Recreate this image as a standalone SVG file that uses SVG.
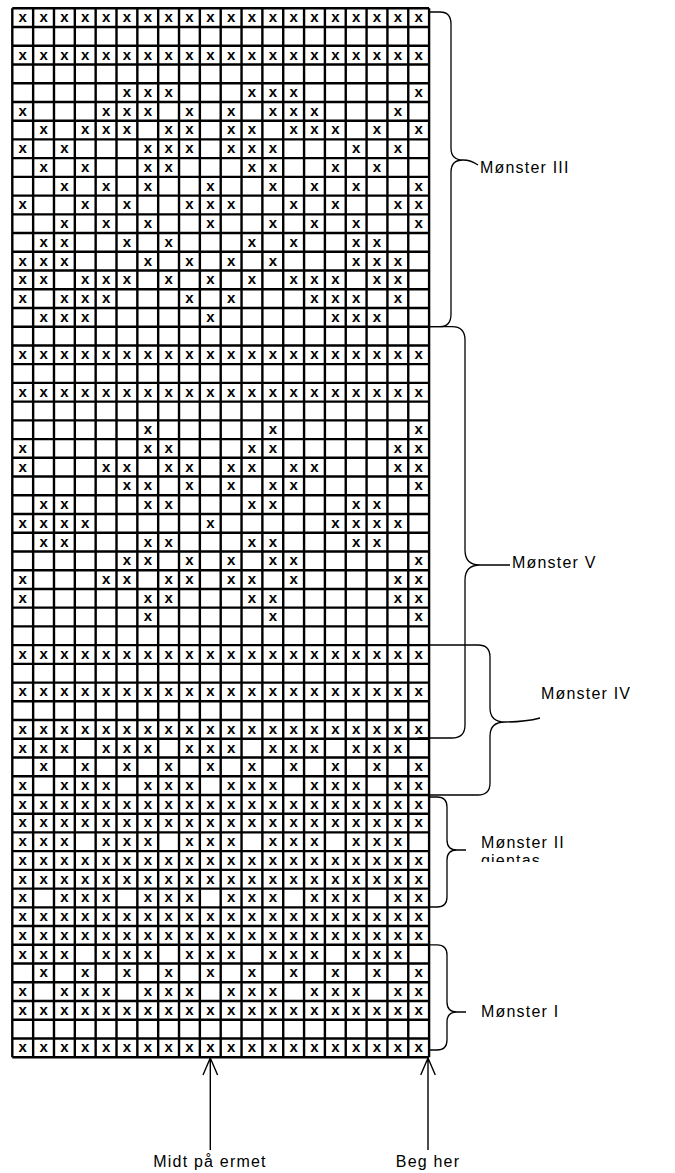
<svg xmlns="http://www.w3.org/2000/svg" width="675" height="1173" viewBox="0 0 675 1173">
<style>
.grid{fill:none;stroke:#000;stroke-width:2.4}
.x{font-family:"Liberation Sans",Arial,sans-serif;font-size:15px;font-weight:bold;text-anchor:middle;fill:#000}
.brace{fill:none;stroke:#000;stroke-width:1.3}
.lbl{font-family:"Liberation Sans",Arial,sans-serif;font-size:16px;letter-spacing:1.2px;fill:#000}
.arr{fill:none;stroke:#000;stroke-width:1.4}
</style>
<defs>
<clipPath id="clipG"><rect x="470" y="850" width="120" height="12"/></clipPath>
</defs>
<rect width="675" height="1173" fill="#fff"/>
<g id="chart">
<path class="grid" d="M12.3 8.3H429.1M12.3 27.03H429.1M12.3 45.76H429.1M12.3 64.49H429.1M12.3 83.22H429.1M12.3 101.95H429.1M12.3 120.68H429.1M12.3 139.41H429.1M12.3 158.14H429.1M12.3 176.87H429.1M12.3 195.6H429.1M12.3 214.33H429.1M12.3 233.06H429.1M12.3 251.79H429.1M12.3 270.52H429.1M12.3 289.25H429.1M12.3 307.98H429.1M12.3 326.71H429.1M12.3 345.44H429.1M12.3 364.17H429.1M12.3 382.9H429.1M12.3 401.63H429.1M12.3 420.36H429.1M12.3 439.09H429.1M12.3 457.82H429.1M12.3 476.55H429.1M12.3 495.28H429.1M12.3 514.01H429.1M12.3 532.74H429.1M12.3 551.47H429.1M12.3 570.2H429.1M12.3 588.93H429.1M12.3 607.66H429.1M12.3 626.39H429.1M12.3 645.12H429.1M12.3 663.85H429.1M12.3 682.58H429.1M12.3 701.31H429.1M12.3 720.04H429.1M12.3 738.77H429.1M12.3 757.5H429.1M12.3 776.23H429.1M12.3 794.96H429.1M12.3 813.69H429.1M12.3 832.42H429.1M12.3 851.15H429.1M12.3 869.88H429.1M12.3 888.61H429.1M12.3 907.34H429.1M12.3 926.07H429.1M12.3 944.8H429.1M12.3 963.53H429.1M12.3 982.26H429.1M12.3 1000.99H429.1M12.3 1019.72H429.1M12.3 1038.45H429.1M12.3 1057.18H429.1M12.3 8.3V1057.18M33.14 8.3V1057.18M53.98 8.3V1057.18M74.82 8.3V1057.18M95.66 8.3V1057.18M116.5 8.3V1057.18M137.34 8.3V1057.18M158.18 8.3V1057.18M179.02 8.3V1057.18M199.86 8.3V1057.18M220.7 8.3V1057.18M241.54 8.3V1057.18M262.38 8.3V1057.18M283.22 8.3V1057.18M304.06 8.3V1057.18M324.9 8.3V1057.18M345.74 8.3V1057.18M366.58 8.3V1057.18M387.42 8.3V1057.18M408.26 8.3V1057.18M429.1 8.3V1057.18"/>
<text class="x" y="22.1" x="22.7 43.6 64.4 85.2 106.1 126.9 147.8 168.6 189.4 210.3 231.1 252 272.8 293.6 314.5 335.3 356.2 377 397.8 418.7">xxxxxxxxxxxxxxxxxxxx</text>
<text class="x" y="59.56" x="22.7 43.6 64.4 85.2 106.1 126.9 147.8 168.6 189.4 210.3 231.1 252 272.8 293.6 314.5 335.3 356.2 377 397.8 418.7">xxxxxxxxxxxxxxxxxxxx</text>
<text class="x" y="97.02" x="126.9 147.8 168.6 252 272.8 293.6 418.7">xxxxxxx</text>
<text class="x" y="115.75" x="22.7 106.1 126.9 147.8 189.4 231.1 272.8 293.6 314.5 397.8">xxxxxxxxxx</text>
<text class="x" y="134.48" x="43.6 85.2 106.1 126.9 168.6 189.4 231.1 252 293.6 314.5 335.3 377 418.7">xxxxxxxxxxxxx</text>
<text class="x" y="153.21" x="22.7 64.4 147.8 168.6 189.4 231.1 252 272.8 356.2 397.8">xxxxxxxxxx</text>
<text class="x" y="171.94" x="43.6 85.2 147.8 168.6 252 272.8 335.3 377">xxxxxxxx</text>
<text class="x" y="190.67" x="64.4 106.1 147.8 210.3 272.8 314.5 356.2 418.7">xxxxxxxx</text>
<text class="x" y="209.4" x="22.7 85.2 126.9 189.4 210.3 231.1 293.6 335.3 397.8 418.7">xxxxxxxxxx</text>
<text class="x" y="228.13" x="64.4 106.1 147.8 210.3 272.8 314.5 356.2 418.7">xxxxxxxx</text>
<text class="x" y="246.86" x="43.6 64.4 126.9 168.6 252 293.6 356.2 377">xxxxxxxx</text>
<text class="x" y="265.59" x="22.7 43.6 64.4 147.8 189.4 231.1 272.8 356.2 377 397.8">xxxxxxxxxx</text>
<text class="x" y="284.32" x="22.7 43.6 85.2 106.1 126.9 168.6 210.3 252 293.6 314.5 335.3 377 397.8">xxxxxxxxxxxxx</text>
<text class="x" y="303.05" x="22.7 64.4 85.2 106.1 189.4 231.1 314.5 335.3 356.2 397.8">xxxxxxxxxx</text>
<text class="x" y="321.78" x="43.6 64.4 85.2 210.3 335.3 356.2 377">xxxxxxx</text>
<text class="x" y="359.24" x="22.7 43.6 64.4 85.2 106.1 126.9 147.8 168.6 189.4 210.3 231.1 252 272.8 293.6 314.5 335.3 356.2 377 397.8 418.7">xxxxxxxxxxxxxxxxxxxx</text>
<text class="x" y="396.7" x="22.7 43.6 64.4 85.2 106.1 126.9 147.8 168.6 189.4 210.3 231.1 252 272.8 293.6 314.5 335.3 356.2 377 397.8 418.7">xxxxxxxxxxxxxxxxxxxx</text>
<text class="x" y="434.16" x="147.8 272.8 418.7">xxx</text>
<text class="x" y="452.89" x="22.7 147.8 168.6 252 272.8 397.8 418.7">xxxxxxx</text>
<text class="x" y="471.62" x="22.7 106.1 126.9 168.6 189.4 231.1 252 293.6 314.5 397.8 418.7">xxxxxxxxxxx</text>
<text class="x" y="490.35" x="126.9 147.8 189.4 231.1 272.8 293.6 418.7">xxxxxxx</text>
<text class="x" y="509.08" x="43.6 64.4 147.8 168.6 252 272.8 356.2 377">xxxxxxxx</text>
<text class="x" y="527.81" x="22.7 43.6 64.4 85.2 210.3 335.3 356.2 377 397.8">xxxxxxxxx</text>
<text class="x" y="546.54" x="43.6 64.4 147.8 168.6 252 272.8 356.2 377">xxxxxxxx</text>
<text class="x" y="565.27" x="126.9 147.8 189.4 231.1 272.8 293.6 418.7">xxxxxxx</text>
<text class="x" y="584" x="22.7 106.1 126.9 168.6 189.4 231.1 252 293.6 397.8 418.7">xxxxxxxxxx</text>
<text class="x" y="602.73" x="22.7 147.8 168.6 252 272.8 397.8 418.7">xxxxxxx</text>
<text class="x" y="621.46" x="147.8 272.8 418.7">xxx</text>
<text class="x" y="658.92" x="22.7 43.6 64.4 85.2 106.1 126.9 147.8 168.6 189.4 210.3 231.1 252 272.8 293.6 314.5 335.3 356.2 377 397.8 418.7">xxxxxxxxxxxxxxxxxxxx</text>
<text class="x" y="696.38" x="22.7 43.6 64.4 85.2 106.1 126.9 147.8 168.6 189.4 210.3 231.1 252 272.8 293.6 314.5 335.3 356.2 377 397.8 418.7">xxxxxxxxxxxxxxxxxxxx</text>
<text class="x" y="733.84" x="22.7 43.6 64.4 85.2 106.1 126.9 147.8 168.6 189.4 210.3 231.1 252 272.8 293.6 314.5 335.3 356.2 377 397.8 418.7">xxxxxxxxxxxxxxxxxxxx</text>
<text class="x" y="752.57" x="22.7 43.6 64.4 106.1 126.9 147.8 189.4 210.3 231.1 272.8 293.6 314.5 356.2 377 397.8">xxxxxxxxxxxxxxx</text>
<text class="x" y="771.3" x="43.6 85.2 126.9 168.6 210.3 252 293.6 335.3 377 418.7">xxxxxxxxxx</text>
<text class="x" y="790.03" x="22.7 64.4 85.2 106.1 147.8 168.6 189.4 231.1 252 272.8 314.5 335.3 356.2 397.8 418.7">xxxxxxxxxxxxxxx</text>
<text class="x" y="808.76" x="22.7 43.6 64.4 85.2 106.1 126.9 147.8 168.6 189.4 210.3 231.1 252 272.8 293.6 314.5 335.3 356.2 377 397.8 418.7">xxxxxxxxxxxxxxxxxxxx</text>
<text class="x" y="827.49" x="22.7 43.6 64.4 85.2 106.1 126.9 147.8 168.6 189.4 210.3 231.1 252 272.8 293.6 314.5 335.3 356.2 377 397.8 418.7">xxxxxxxxxxxxxxxxxxxx</text>
<text class="x" y="846.22" x="22.7 43.6 64.4 106.1 126.9 147.8 189.4 210.3 231.1 272.8 293.6 314.5 356.2 377 397.8">xxxxxxxxxxxxxxx</text>
<text class="x" y="864.95" x="22.7 43.6 64.4 85.2 106.1 126.9 147.8 168.6 189.4 210.3 231.1 252 272.8 293.6 314.5 335.3 356.2 377 397.8 418.7">xxxxxxxxxxxxxxxxxxxx</text>
<text class="x" y="883.68" x="22.7 43.6 64.4 85.2 106.1 126.9 147.8 168.6 189.4 210.3 231.1 252 272.8 293.6 314.5 335.3 356.2 377 397.8 418.7">xxxxxxxxxxxxxxxxxxxx</text>
<text class="x" y="902.41" x="22.7 64.4 85.2 106.1 147.8 168.6 189.4 231.1 252 272.8 314.5 335.3 356.2 397.8 418.7">xxxxxxxxxxxxxxx</text>
<text class="x" y="921.14" x="22.7 43.6 64.4 85.2 106.1 126.9 147.8 168.6 189.4 210.3 231.1 252 272.8 293.6 314.5 335.3 356.2 377 397.8 418.7">xxxxxxxxxxxxxxxxxxxx</text>
<text class="x" y="939.87" x="22.7 43.6 64.4 85.2 106.1 126.9 147.8 168.6 189.4 210.3 231.1 252 272.8 293.6 314.5 335.3 356.2 377 397.8 418.7">xxxxxxxxxxxxxxxxxxxx</text>
<text class="x" y="958.6" x="22.7 43.6 64.4 106.1 126.9 147.8 189.4 210.3 231.1 272.8 293.6 314.5 356.2 377 397.8">xxxxxxxxxxxxxxx</text>
<text class="x" y="977.33" x="43.6 85.2 126.9 168.6 210.3 252 293.6 335.3 377 418.7">xxxxxxxxxx</text>
<text class="x" y="996.06" x="22.7 64.4 85.2 106.1 147.8 168.6 189.4 231.1 252 272.8 314.5 335.3 356.2 397.8 418.7">xxxxxxxxxxxxxxx</text>
<text class="x" y="1014.79" x="22.7 43.6 64.4 85.2 106.1 126.9 147.8 168.6 189.4 210.3 231.1 252 272.8 293.6 314.5 335.3 356.2 377 397.8 418.7">xxxxxxxxxxxxxxxxxxxx</text>
<text class="x" y="1052.25" x="22.7 43.6 64.4 85.2 106.1 126.9 147.8 168.6 189.4 210.3 231.1 252 272.8 293.6 314.5 335.3 356.2 377 397.8 418.7">xxxxxxxxxxxxxxxxxxxx</text>
</g>
<g id="connectors">
<path class="brace" d="M428 12H440Q451 12 451 24V148Q451 160 463 160Q471 160 478 165M463 160Q451 160 451 172V314Q451 326.7 440 326.7H430"/>
<path class="brace" d="M430 326.7H452Q465 326.7 465 340V550Q465 565 480 565H510M480 565Q465 565 465 580V725Q465 738 452 738H418"/>
<path class="brace" d="M430 645H478Q490 645 490 657V708Q490 722 505 722Q525 722 540 718M505 722Q490 722 490 736V783Q490 795 478 795H430"/>
<path class="brace" d="M430 797H437Q447 797 447 807V840Q447 850 457 850H466M457 850Q447 850 447 860V897Q447 907 437 907H430"/>
<path class="brace" d="M430 944.8H437Q447 944.8 447 955V1002Q447 1012 457 1012H466M457 1012Q447 1012 447 1022V1040Q447 1050 437 1050H430"/>
<path class="arr" d="M210.3 1058V1150M203 1075L210.3 1058L217.6 1075"/>
<path class="arr" d="M428 1058V1150M420.7 1075L428 1058L435.3 1075"/>
</g>
<g id="label-m3"><text class="lbl" x="480" y="173">Mønster III</text></g>
<g id="label-m5"><text class="lbl" x="512" y="568">Mønster V</text></g>
<g id="label-m4"><text class="lbl" x="541" y="699">Mønster IV</text></g>
<g id="label-m2"><text class="lbl" x="481" y="848">Mønster II</text><text class="lbl" x="481" y="866" clip-path="url(#clipG)">gjentas</text></g>
<g id="label-m1"><text class="lbl" x="481" y="1017">Mønster I</text></g>
<g id="label-midt"><text class="lbl" x="210" y="1167" text-anchor="middle">Midt på ermet</text></g>
<g id="label-beg"><text class="lbl" x="428" y="1167" text-anchor="middle">Beg her</text></g>
</svg>
